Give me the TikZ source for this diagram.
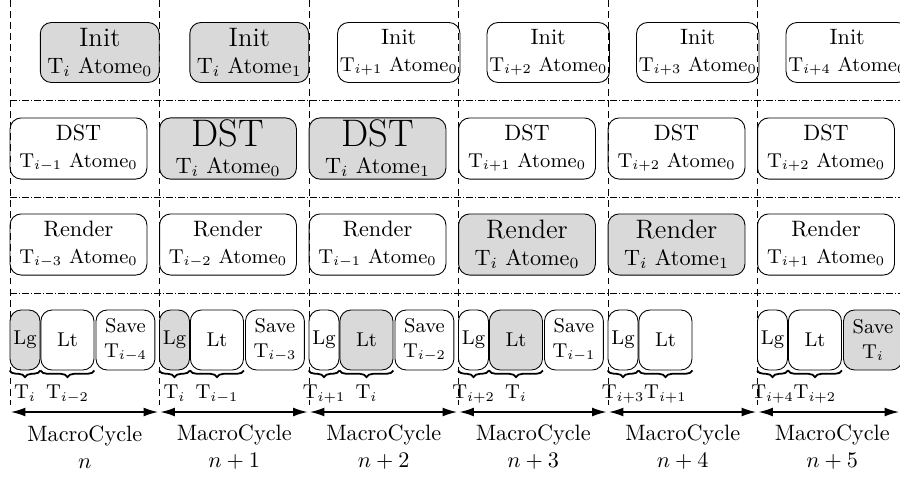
\documentclass[tikz,border=0pt]{standalone}
\usepackage{amsmath}
\usepackage{tikz}
\usepackage{xcolor}
\usetikzlibrary{arrows.meta,positioning,decorations.pathreplacing}

\tikzset{
  task/.style={draw, rounded corners=5pt, inner sep=1pt, align=center},
  busy/.style={task, fill=gray!30},
  initbox/.style={minimum width=53.5pt, minimum height=27pt},
  stagebox/.style={minimum width=61.6pt, minimum height=27.5pt},
  subbox/.style={task, minimum height=27pt, font=\small},
  lane/.style={densely dashed},
  row/.style={densely dashdotted},
  cycle/.style={{Latex[length=6.5pt,width=4pt]}-{Latex[length=6.5pt,width=4pt]}, semithick},
  tbrace/.style={decorate, decoration={brace, mirror, amplitude=3pt}, thick},
}

\begin{document}
\begin{tikzpicture}[x=0.45pt, y=-0.45pt]
  \useasboundingbox (0,0) rectangle (900,477);

  % separators
  \foreach \y in {100,197,293}
    \draw[row] (10,\y) -- (900,\y);
  \foreach \k in {0,...,5}
    \draw[lane] (10+149.5*\k,0) -- (10+149.5*\k,405);

  % Init
  \node[busy, initbox] (init0) at (99.75,52.5)  {{\large Init}\\T$_i$ Atome$_0$};
  \node[busy, initbox] (init1) at (249.25,52.5) {{\large Init}\\T$_i$ Atome$_1$};
  \node[task, initbox] (init2) at (398.75,52.5) {Init\\{\small T$_{i+1}$ Atome$_0$}};
  \node[task, initbox] (init3) at (548.25,52.5) {Init\\{\small T$_{i+2}$ Atome$_0$}};
  \node[task, initbox] (init4) at (697.75,52.5) {Init\\{\small T$_{i+3}$ Atome$_0$}};
  \node[task, initbox] (init5) at (847.25,52.5) {Init\\{\small T$_{i+4}$ Atome$_0$}};

  % DST
  \node[task, stagebox] (dst0) at (78.5,148.5)  {DST\\{\small T$_{i-1}$ Atome$_0$}};
  \node[busy, stagebox] (dst1) at (228,148.5)   {{\LARGE DST}\\T$_i$ Atome$_0$};
  \node[busy, stagebox] (dst2) at (377.5,148.5) {{\LARGE DST}\\T$_i$ Atome$_1$};
  \node[task, stagebox] (dst3) at (527,148.5)   {DST\\{\small T$_{i+1}$ Atome$_0$}};
  \node[task, stagebox] (dst4) at (676.5,148.5) {DST\\{\small T$_{i+2}$ Atome$_0$}};
  \node[task, stagebox] (dst5) at (826,148.5)   {DST\\{\small T$_{i+2}$ Atome$_0$}};

  % Render
  \node[task, stagebox] (ren0) at (78.5,244.5)  {Render\\{\small T$_{i-3}$ Atome$_0$}};
  \node[task, stagebox] (ren1) at (228,244.5)   {Render\\{\small T$_{i-2}$ Atome$_0$}};
  \node[task, stagebox] (ren2) at (377.5,244.5) {Render\\{\small T$_{i-1}$ Atome$_0$}};
  \node[busy, stagebox] (ren3) at (527,244.5)   {{\large Render}\\T$_i$ Atome$_0$};
  \node[busy, stagebox] (ren4) at (676.5,244.5) {{\large Render}\\T$_i$ Atome$_1$};
  \node[task, stagebox] (ren5) at (826,244.5)   {Render\\{\small T$_{i+1}$ Atome$_0$}};

  % Lg / Lt
  \foreach \k/\fa/\fb/\ta/\tb in {0/gray!30/white/i/{i-2}, 1/gray!30/white/i/{i-1},
      2/white/gray!30/{i+1}/i, 3/white/gray!30/{i+2}/i,
      4/white/white/{i+3}/{i+1}, 5/white/white/{i+4}/{i+2}} {
    \node[subbox, fill=\fa, minimum width=13.5pt] (lg\k) at (25+149.5*\k,340) {Lg};
    \node[subbox, fill=\fb, minimum width=23.9pt, right=0pt of lg\k] (lt\k) {Lt};
    \draw[tbrace] (lg\k.south west) -- (lg\k.south east)
      node[midway, below=3pt, font=\small] (ta\k) {T$_{\ta}$};
    \draw[tbrace] (lt\k.south west) -- (lt\k.south east)
      node[midway, below=3pt, font=\small] (tb\k) {T$_{\tb}$};
  }

  % Save
  \node[subbox, minimum width=26.5pt, right=0.5pt of lt0] (save0) {Save\\T$_{i-4}$};
  \node[subbox, minimum width=26.5pt, right=0.5pt of lt1] (save1) {Save\\T$_{i-3}$};
  \node[subbox, minimum width=26.5pt, right=0.5pt of lt2] (save2) {Save\\T$_{i-2}$};
  \node[subbox, minimum width=26.5pt, right=0.5pt of lt3] (save3) {Save\\T$_{i-1}$};
  \node[subbox, busy, minimum width=26.5pt, right=0.5pt of lt5] (save5) {Save\\T$_i$};

  % macro cycles
  \foreach \k/\lab in {0/n, 1/n+1, 2/n+2, 3/n+3, 4/n+4, 5/n+5} {
    \coordinate (ms\k) at (11+149.5*\k,412);
    \coordinate (me\k) at ({min(158+149.5*\k,899)},412);
    \draw[cycle] (ms\k) -- (me\k);
    \node[align=center] (mc\k) at (84.75+149.5*\k,447) {MacroCycle\\$\lab$};
  }
\end{tikzpicture}
\end{document}
